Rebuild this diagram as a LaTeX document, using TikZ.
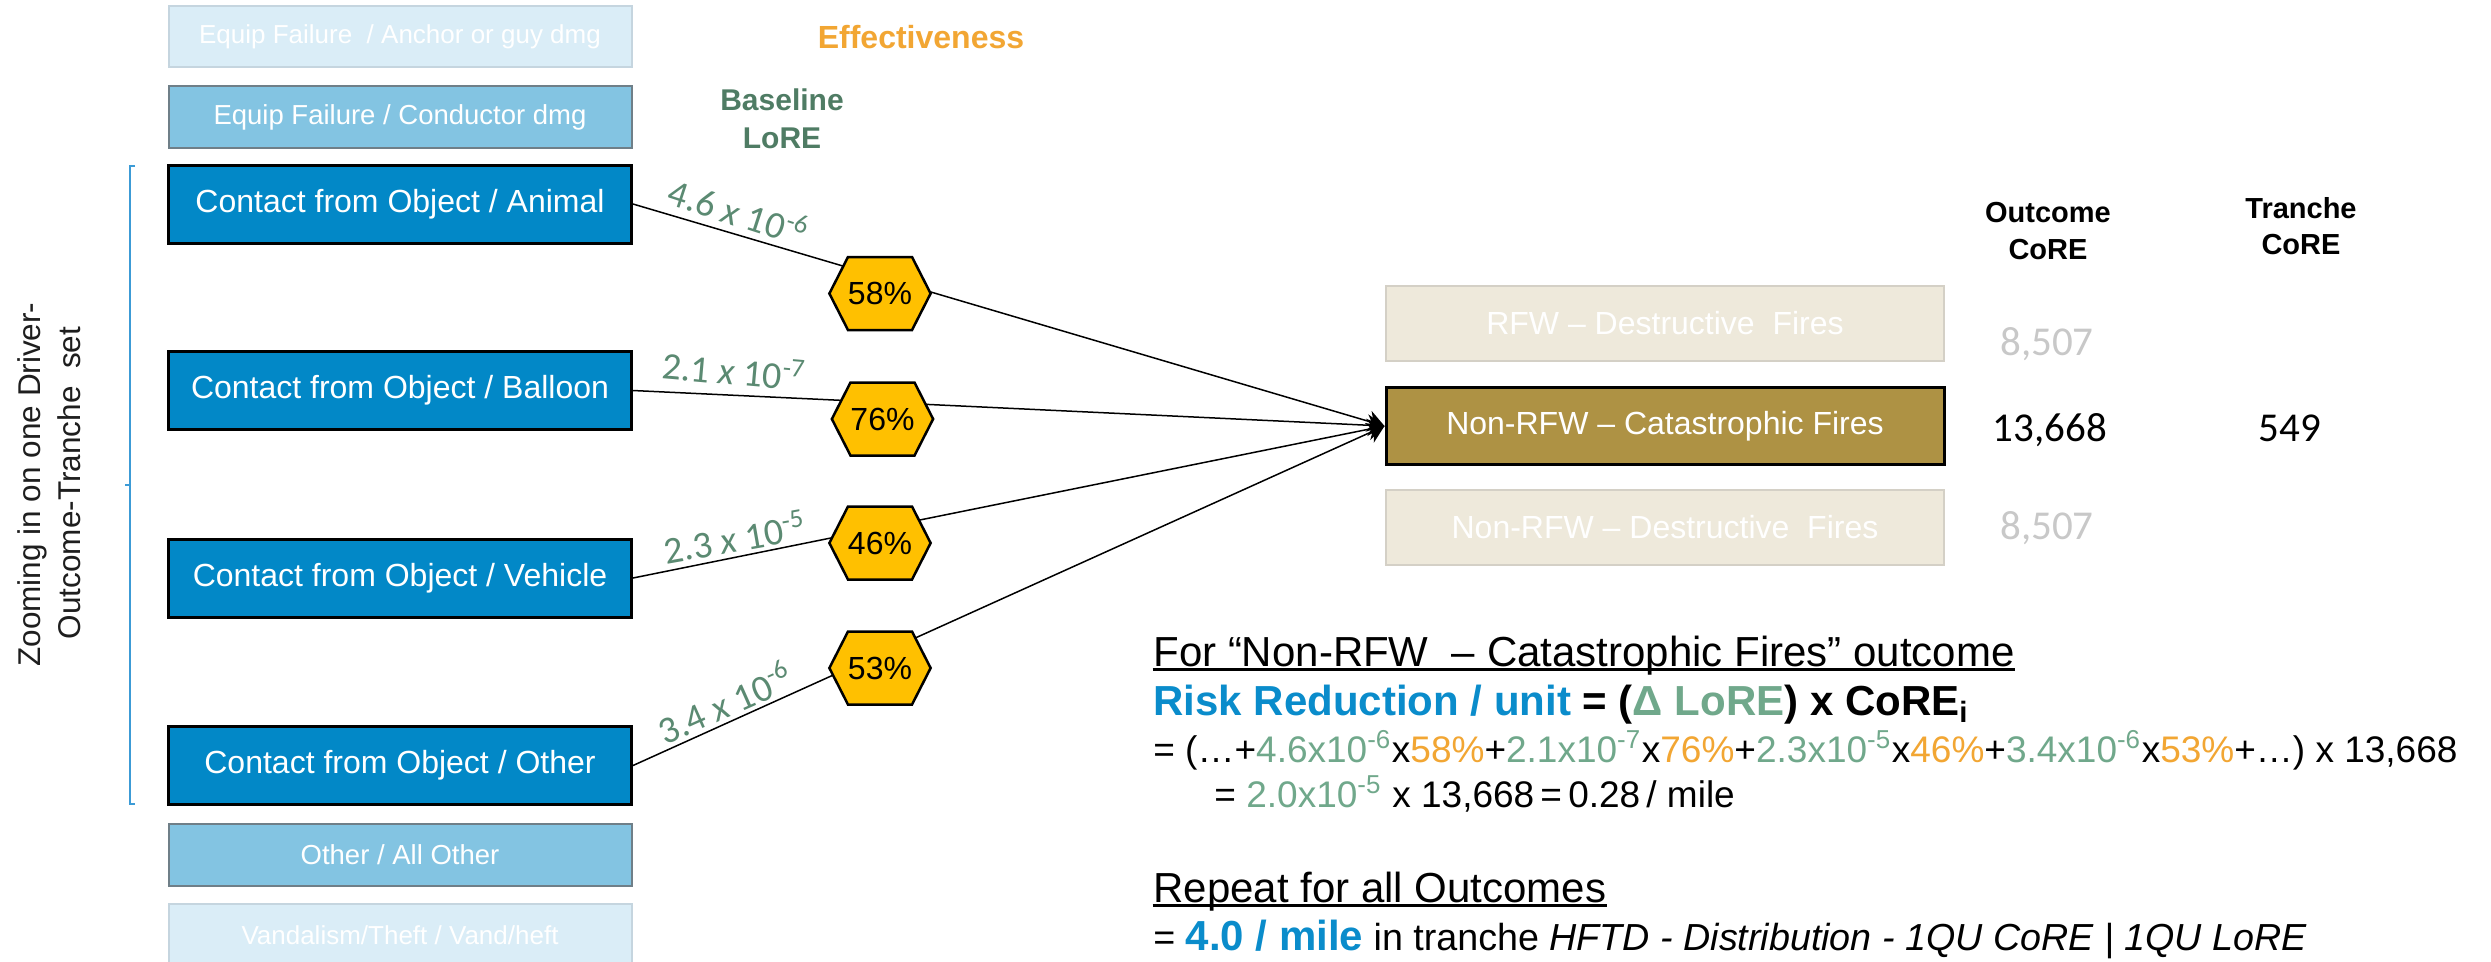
\documentclass[tikz,border=0pt]{standalone}
\usepackage{fontspec}
\setmainfont{Liberation Sans}
\newfontfamily\calibri{Carlito}
\usetikzlibrary{shapes.symbols,arrows.meta}

\definecolor{paleblue}{HTML}{DAEDF7}
\definecolor{paleblueedge}{HTML}{C5D5DF}
\definecolor{midblue}{HTML}{83C4E2}
\definecolor{midblueedge}{HTML}{6F7F88}
\definecolor{drvblue}{HTML}{0288C7}
\definecolor{bracketblue}{HTML}{3C9BD6}
\definecolor{hexyellow}{HTML}{FFC000}
\definecolor{olive}{HTML}{AE9244}
\definecolor{paletan}{HTML}{EEE9DB}
\definecolor{paletanedge}{HTML}{D4D0C6}
\definecolor{numgray}{HTML}{C8C8C8}
\definecolor{loregreen}{HTML}{5B8A72}
\definecolor{headgreen}{HTML}{4F7C64}
\definecolor{formgreen}{HTML}{70A88B}
\definecolor{effor}{HTML}{F2A633}
\definecolor{riskblue}{HTML}{0A8CCB}
\definecolor{sidetext}{HTML}{1E1E1E}

\newcommand{\px}[1]{\fontsize{#1pt}{1.2\dimexpr#1pt\relax}\selectfont}

\begin{document}
\begin{tikzpicture}[x=0.3pt,y=-0.3pt,
  dbox/.style={rectangle, inner sep=0pt, minimum width=138.9pt, text=white},
  faint/.style={dbox, fill=paleblue, draw=paleblueedge, line width=0.6pt, minimum height=18.4pt, font=\px{7.8}},
  mid/.style={dbox, fill=midblue, draw=midblueedge, line width=0.6pt, minimum height=18.6pt, font=\px{8.25}},
  driver/.style={dbox, fill=drvblue, draw=black, line width=0.9pt, minimum height=23.4pt, font=\px{9.6}},
  obox/.style={rectangle, inner sep=0pt, minimum width=167.4pt, minimum height=22.6pt, text=white, font=\px{9.6}},
  paleout/.style={obox, fill=paletan, draw=paletanedge, line width=0.6pt},
  mainout/.style={obox, fill=olive, draw=black, line width=0.9pt, minimum height=23.25pt},
  hexnode/.style={signal, signal to=west and east, signal pointer angle=126,
    fill=hexyellow, draw=black, line width=0.75pt, inner sep=0pt,
    minimum width=28.8pt, minimum height=21.9pt, font=\px{9.6}},
  conn/.style={draw=black, line width=0.45pt, -{Stealth[length=5pt,width=6.5pt]}},
  lorelbl/.style={text=loregreen, inner sep=0pt, font=\calibri\px{11.4}},
  colhead/.style={anchor=base, inner sep=0pt, font=\bfseries\px{8.7}},
  corenum/.style={anchor=base, inner sep=0pt, font=\calibri\px{12.3}},
  formula/.style={anchor=base west, inner sep=0pt},
  uline/.style={line width=0.7pt}
]
\useasboundingbox (0,0) rectangle (2491,961);
\clip (0,0) rectangle (2491,961);
\fill[white] (0,0) rectangle (2491,961);

% driver column
\node[faint] (anchor) at (400,36.5) {Equip Failure \ / Anchor or guy dmg};
\node[mid] (cond) at (400,117) {Equip Failure / Conductor dmg};
\node[driver] (animal) at (400,204) {Contact from Object / Animal};
\node[driver] (balloon) at (400,390.5) {Contact from Object / Balloon};
\node[driver] (vehicle) at (400,578) {Contact from Object / Vehicle};
\node[driver] (otherobj) at (400,765.5) {Contact from Object / Other};
\node[mid] (allother) at (400,855) {Other / All Other};
\node[faint] (vandal) at (400,935) {Vandalism/Theft / Vand/heft};

% bracket and side caption
\draw[bracketblue, line width=0.6pt] (135,166) -- (130,166) -- (130,804) -- (135,804);
\draw[bracketblue, line width=0.6pt] (130,485) -- (125,485);
\node[rotate=90, anchor=base, inner sep=0pt, text=sidetext, font=\px{9.45}] (cap1) at (41,484.5) {Zooming in on one Driver-};
\node[rotate=90, anchor=base, inner sep=0pt, text=sidetext, font=\px{9.45}] (cap2) at (80,483) {Outcome-Tranche \ set};

% column headings
\node[anchor=base, inner sep=0pt, text=effor, font=\bfseries\px{9.6}] (eff) at (921,48) {Effectiveness};
\node[anchor=base, inner sep=0pt, text=headgreen, font=\bfseries\px{9}] (bl1) at (782,110) {Baseline};
\node[anchor=base, inner sep=0pt, text=headgreen, font=\bfseries\px{9}] (bl2) at (782,148) {LoRE};

% outcome column
\node[paleout] (rfwd) at (1665,323.5) {RFW -- Destructive \ Fires};
\node[mainout] (cat) at (1665,426) {Non-RFW -- Catastrophic Fires};
\node[paleout] (nrfwd) at (1665,527.5) {Non-RFW -- Destructive \ Fires};

% connectors
\draw[conn] (animal.east) -- (cat.west);
\draw[conn] (balloon.east) -- (cat.west);
\draw[conn] (vehicle.east) -- (cat.west);
\draw[conn] (otherobj.east) -- (cat.west);

% effectiveness hexagons
\node[hexnode] (h1) at (880,293.5) {58\%};
\node[hexnode] (h2) at (882.5,419) {76\%};
\node[hexnode] (h3) at (880,543) {46\%};
\node[hexnode] (h4) at (880,668) {53\%};

% baseline LoRE labels
\node[lorelbl, rotate=-18] (l1) at (739,211) {4.6 \textit{x} 10\textsuperscript{-6}};
\node[lorelbl, rotate=-5] (l2) at (734,370) {2.1 \textit{x} 10\textsuperscript{-7}};
\node[lorelbl, rotate=10] (l3) at (735,537) {2.3 \textit{x} 10\textsuperscript{-5}};
\node[lorelbl, rotate=24] (l4) at (725,702) {3.4 \textit{x} 10\textsuperscript{-6}};

% CoRE columns
\node[colhead] (oc1) at (2048,222) {Outcome};
\node[colhead] (oc2) at (2048,259) {CoRE};
\node[colhead] (tc1) at (2301,218) {Tranche};
\node[colhead] (tc2) at (2301,254) {CoRE};
\node[corenum, text=numgray] (n1) at (2047,355) {8,507};
\node[corenum] (n2) at (2050,441) {13,668};
\node[corenum] (n3) at (2290,441) {549};
\node[corenum, text=numgray] (n4) at (2047,539) {8,507};

% worked calculation
\node[formula, font=\px{12.6}] (f1) at (1152.7,666) {For “Non-RFW \ – Catastrophic Fires” outcome};
\draw[uline] ([yshift=-1pt]f1.base west) -- ([yshift=-1pt]f1.base east);
\node[formula, font=\bfseries\px{12.6}] (f2) at (1152.7,715) {{\color{riskblue}Risk Reduction / unit} = ({\color{formgreen}Δ LoRE}) x CoRE\textsubscript{i}};
\node[formula, font=\px{11.1}] (f3) at (1152.7,762) {= (…+{\color{formgreen}4.6x10\textsuperscript{-6}}x{\color{effor}58\%}+{\color{formgreen}2.1x10\textsuperscript{-7}}x{\color{effor}76\%}+{\color{formgreen}2.3x10\textsuperscript{-5}}x{\color{effor}46\%}+{\color{formgreen}3.4x10\textsuperscript{-6}}x{\color{effor}53\%}+…) x 13,668};
\node[formula, font=\px{11.1}] (f4) at (1213.8,807) {= {\color{formgreen}2.0x10\textsuperscript{-5}} x 13,668\,=\,0.28\,/ mile};
\node[formula, font=\px{12.6}] (f5) at (1152.7,902) {Repeat for all Outcomes};
\draw[uline] ([yshift=-1pt]f5.base west) -- ([yshift=-1pt]f5.base east);
\node[formula, font=\px{11.3}] (f6) at (1152.7,950) {= {\bfseries\px{12.6}\color{riskblue}4.0 / mile} in tranche \textit{HFTD - Distribution - 1QU CoRE | 1QU LoRE}};
\end{tikzpicture}
\end{document}
